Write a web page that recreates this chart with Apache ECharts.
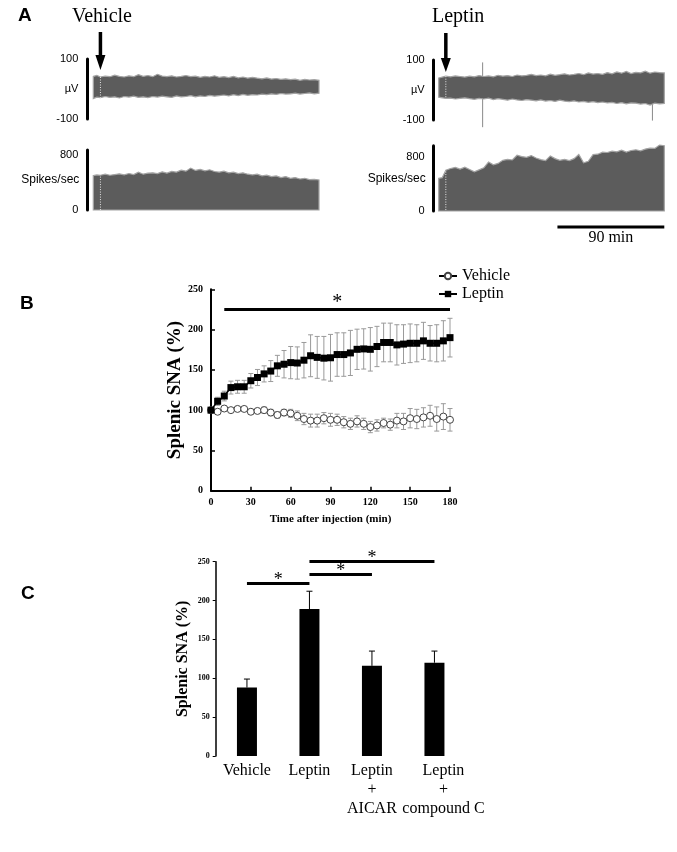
<!DOCTYPE html>
<html><head><meta charset="utf-8">
<script src="https://cdn.jsdelivr.net/npm/echarts@6/dist/echarts.min.js"></script>
<style>html,body{margin:0;padding:0;background:#fff}#c{width:677px;height:852px}</style>
</head><body><div id="c"></div>
<script>
// ---------- Panel A: recording envelopes ----------
const traceTime = [-6,-3,0,4,8,12,16,20,24,28,32,36,40,44,48,52,56,60,64,68,72,76,80,84,88,92,96,100,104,108,112,116,120,124,128,132,136,140,144,148,152,156,160,164,168,172,176,180,184];
const injectionTime = 0;
const vehUp = [42,45,40, 43,41,46,42,40,44,41,48,42,45,41, 49,43,41,44,40,42, 45,41,43,39,42,40,44, 39,41,38,42,37,40,36,39, 36,34,37,33,35,32,34,31,33,29,32,30,31,29];
const vehLo = [-32,-27,-29, -25,-28,-26,-30,-25,-27,-24,-28,-26,-29,-25, -27,-24,-26,-28,-23,-26, -25,-22,-26,-23,-25,-21,-24, -22,-20,-23,-19,-22,-18,-21,-19, -20,-17,-19,-16,-18,-15,-17,-16,-14,-17,-15,-13,-16,-14];
const vehSpikes = [505,515,510, 525,510,520,530,515,535,520,555,525,540,545, 535,560,540,565,555,585, 570,615,580,595,575,590,565, 555,570,545,555,535,545,525,515, 525,500,510,490,500,475,490,465,475,455,465,445,450,440];
const lepUp = [40,43,46, 44,47,45,43,46,44,48,45,47,44,49, 46,48,45,50,47,49, 52,48,50,47,53,49,51, 54,50,52,55,51,57,53,55, 52,58,54,60,56,62,55,59,57,63,56,60,58,57];
const lepLo = [-24,-26,-28, -27,-30,-28,-26,-29,-31,-28,-30,-27,-32,-29, -31,-34,-30,-33,-35,-32, -34,-36,-33,-37,-35,-38,-34, -37,-39,-36,-40,-38,-41,-39,-42, -40,-43,-41,-45,-42,-46,-43,-44,-47,-45,-50,-44,-46,-45];
const lepSpikes = [480,490,600, 625,640,615,645,610,575,605,635,720,680,700,745,760,750,820,800,790,815,780,755,740,810,770,745,760,740,770,830,710,730,830,835,865,860,880,870,895,865,890,900,885,910,925,920,970,960];
const lepSpikeTime = [31, 174];
const lepSpikeHi = [92, 52];
const lepSpikeLo = [-124, -102];

// ---------- Panel B ----------
const bTime = [0,5,10,15,20,25,30,35,40,45,50,55,60,65,70,75,80,85,90,95,100,105,110,115,120,125,130,135,140,145,150,155,160,165,170,175,180];
const vehMean = [100,98,102,100,101.5,101.5,98,99,100,97,94,97,96,93,89,87,87,90,88,88,85,83,86,83,79,81,84,82,87,86,90,89,91,93,89,92,88];
const vehErr = [0,3,3,3,3,3,3,3,4,4,4,4,5,6,7,8,8,7,8,7,7,7,7,7,7,7,6,7,9,10,12,12,12,13,15,16,14];
const lepMean = [100,111,117.5,128,129,129,136.5,140.5,145,148.5,155,157,159,158.5,162,167.5,165.5,164.5,165,169,169,171,175.5,176,175.5,179,184,184,181,182,183,183,186,183,183,186,190];
const lepErr = [0,5,6,8,8,8,9,10,10,13,13,17,20,20,22,26,26,27,29,27,27,28,25,25,27,25,24,24,25,24,24,23,23,22,23,25,24];
const bSig = [10, 180, 225];

// ---------- Panel C ----------
const cCategories = ['Vehicle', 'Leptin', 'Leptin\n+\nAICAR', 'Leptin\n+\ncompound C'];
const cMean = [88, 189, 116, 120];
const cErr = [11, 23, 19, 15];
const cSig = [[0, 1, 222], [1, 2, 234], [1, 3, 250]];

const SERIF = "'Liberation Serif','Times New Roman',serif";
const SANS = "'Liberation Sans',Arial,sans-serif";

function bandRender(up, lo, arrow) {
  return function (params, api) {
    const top = traceTime.map((t, i) => api.coord([t, up[i]]));
    const bot = traceTime.map((t, i) => api.coord([t, lo[i]])).reverse();
    const ch = [{type: 'polygon', shape: {points: top.concat(bot)}, style: {fill: '#5c5c5c', stroke: '#a4a4a4', lineWidth: 1.2}}];
    const k = traceTime.indexOf(injectionTime);
    const a = api.coord([injectionTime, up[k]]), b = api.coord([injectionTime, lo[k]]);
    ch.push({type: 'line', shape: {x1: a[0], y1: a[1], x2: b[0], y2: b[1]}, style: {stroke: '#e6e6e6', lineWidth: 1, lineDash: [1, 1.5]}});
    const s0 = api.coord([injectionTime, arrow[0]]), s1 = api.coord([injectionTime, arrow[1]]), tip = api.coord([injectionTime, arrow[2]]);
    ch.push({type: 'line', shape: {x1: s0[0], y1: s0[1], x2: s1[0], y2: s1[1] + 1}, style: {stroke: '#000', lineWidth: 3.5}});
    ch.push({type: 'polygon', shape: {points: [[s1[0] - 5, s1[1]], [s1[0] + 5, s1[1]], [tip[0], tip[1]]]}, style: {fill: '#000'}});
    return {type: 'group', children: ch};
  };
}
function spikeRender(vals, extra) {
  return function (params, api) {
    const pts = traceTime.map((t, i) => api.coord([t, vals[i]]));
    pts.push(api.coord([traceTime[traceTime.length - 1], 0]));
    pts.push(api.coord([traceTime[0], 0]));
    const ch = [{type: 'polygon', shape: {points: pts}, style: {fill: '#5c5c5c', stroke: '#a4a4a4', lineWidth: 1.2}}];
    const k = traceTime.indexOf(injectionTime);
    const a = api.coord([injectionTime, vals[k] - 20]), b = api.coord([injectionTime, 0]);
    ch.push({type: 'line', shape: {x1: a[0], y1: a[1], x2: b[0], y2: b[1]}, style: {stroke: '#e6e6e6', lineWidth: 1, lineDash: [1, 1.5]}});
    if (extra) extra(api, ch);
    return {type: 'group', children: ch};
  };
}
function eventRender(params, api) {
  const ch = lepSpikeTime.map((t, i) => {
    const a = api.coord([t, lepSpikeHi[i]]), b = api.coord([t, lepSpikeLo[i]]);
    return {type: 'line', shape: {x1: a[0], y1: a[1], x2: b[0], y2: b[1]}, style: {stroke: '#8a8a8a', lineWidth: 1}};
  });
  return {type: 'group', children: ch};
}
function errRender(color, both, cap) {
  return function (params, api) {
    const x = api.value(0), lo = api.value(1), hi = api.value(2);
    const p1 = api.coord([x, lo]), p2 = api.coord([x, hi]);
    const st = {stroke: color, lineWidth: 1};
    const ch = [{type: 'line', shape: {x1: p1[0], y1: p1[1], x2: p2[0], y2: p2[1]}, style: st},
      {type: 'line', shape: {x1: p2[0] - cap, y1: p2[1], x2: p2[0] + cap, y2: p2[1]}, style: st}];
    if (both) ch.push({type: 'line', shape: {x1: p1[0] - cap, y1: p1[1], x2: p1[0] + cap, y2: p1[1]}, style: st});
    return {type: 'group', children: ch};
  };
}

const hiddenX = (g) => ({type: 'value', gridIndex: g, min: traceTime[0], max: traceTime[traceTime.length - 1], show: false});
const uvAxis = (g, off) => ({type: 'value', gridIndex: g, min: -100, max: 100, interval: 100, offset: off,
  axisLine: {show: true, onZero: false, lineStyle: {color: '#000', width: 3}}, axisTick: {show: false}, splitLine: {show: false},
  axisLabel: {margin: 9, color: '#000', fontFamily: SANS, fontSize: 11, formatter: v => v === 0 ? 'µV' : String(v)}});
const spAxis = (g, off, max) => ({type: 'value', gridIndex: g, min: 0, max: max, interval: 800, offset: off,
  axisLine: {show: true, onZero: false, lineStyle: {color: '#000', width: 3}}, axisTick: {show: false}, splitLine: {show: false},
  axisLabel: {margin: 9, color: '#000', fontFamily: SANS, fontSize: 11, showMaxLabel: false, formatter: v => (v === 0 || v === 800) ? String(v) : ''},
  name: 'Spikes/sec', nameLocation: 'middle', nameRotate: 0, nameGap: 8, nameMoveOverlap: false,
  nameTextStyle: {color: '#000', fontFamily: SANS, fontSize: 12, align: 'right', verticalAlign: 'middle'}});
const G = (o) => Object.assign({outerBoundsMode: 'none', containLabel: false}, o);

const chart = echarts.init(document.getElementById('c'), null, {renderer: 'canvas'});
chart.setOption({
  animation: false,
  backgroundColor: '#fff',
  title: [
    {text: 'A', left: 18, top: 6, padding: 0, textStyle: {fontFamily: SANS, fontWeight: 'bold', fontSize: 19, color: '#000'}},
    {text: 'Vehicle', left: 72, top: 7, padding: 0, textStyle: {fontFamily: SERIF, fontWeight: 'normal', fontSize: 20, color: '#000'}},
    {text: 'Leptin', left: 432, top: 7, padding: 0, textStyle: {fontFamily: SERIF, fontWeight: 'normal', fontSize: 20, color: '#000'}},
    {text: 'B', left: 20, top: 294, padding: 0, textStyle: {fontFamily: SANS, fontWeight: 'bold', fontSize: 19, color: '#000'}},
    {text: 'C', left: 21, top: 584, padding: 0, textStyle: {fontFamily: SANS, fontWeight: 'bold', fontSize: 19, color: '#000'}}
  ],
  legend: {
    orient: 'vertical', left: 438, top: 268, itemWidth: 18, itemHeight: 8, itemGap: 2, padding: 0,
    textStyle: {fontFamily: SERIF, fontSize: 16, color: '#000'},
    data: ['Vehicle', 'Leptin']
  },
  grid: [
    G({left: 93.3, top: 59, width: 225.7, height: 60}),
    G({left: 93.3, top: 150, width: 225.7, height: 60}),
    G({left: 438.7, top: 60, width: 225.6, height: 60}),
    G({left: 438.7, top: 145.7, width: 225.6, height: 65.3}),
    G({left: 211, top: 289.3, width: 239, height: 201.4}),
    G({left: 215.7, top: 561.7, width: 250, height: 194.3})
  ],
  xAxis: [
    hiddenX(0), hiddenX(1), hiddenX(2), hiddenX(3),
    {type: 'value', gridIndex: 4, min: 0, max: 180, interval: 30,
      axisLine: {onZero: false, lineStyle: {color: '#000', width: 2}}, axisTick: {inside: true, length: 4, lineStyle: {color: '#000', width: 1.5}},
      splitLine: {show: false},
      axisLabel: {margin: 7, color: '#000', fontFamily: SERIF, fontWeight: 'bold', fontSize: 10},
      name: 'Time after injection (min)', nameLocation: 'middle', nameGap: 23, nameMoveOverlap: false,
      nameTextStyle: {color: '#000', fontFamily: SERIF, fontWeight: 'bold', fontSize: 11}},
    {type: 'category', gridIndex: 5, data: cCategories.map((c, i) => i === 3 ? {value: c, textStyle: {padding: [0, 0, 0, 18]}} : c),
      axisLine: {show: false}, axisTick: {show: false},
      axisLabel: {margin: 5, color: '#000', fontFamily: SERIF, fontSize: 16, lineHeight: 19, interval: 0}}
  ],
  yAxis: [
    uvAxis(0, 6), spAxis(1, 6, 880), uvAxis(2, 5), spAxis(3, 5, 960),
    {type: 'value', gridIndex: 4, min: 0, max: 250, interval: 50,
      axisLine: {show: true, onZero: false, lineStyle: {color: '#000', width: 2}}, axisTick: {show: true, inside: true, length: 4, lineStyle: {color: '#000', width: 1.5}},
      splitLine: {show: false},
      axisLabel: {margin: 8, color: '#000', fontFamily: SERIF, fontWeight: 'bold', fontSize: 10},
      name: 'Splenic SNA (%)', nameLocation: 'middle', nameGap: 26, nameMoveOverlap: false,
      nameTextStyle: {color: '#000', fontFamily: SERIF, fontWeight: 'bold', fontSize: 19}},
    {type: 'value', gridIndex: 5, min: 0, max: 250, interval: 50,
      axisLine: {show: true, onZero: false, lineStyle: {color: '#000', width: 1.5}}, axisTick: {show: true, length: 3, lineStyle: {color: '#000', width: 1}},
      splitLine: {show: false},
      axisLabel: {margin: 6, color: '#000', fontFamily: SERIF, fontWeight: 'bold', fontSize: 8},
      name: 'Splenic SNA (%)', nameLocation: 'middle', nameGap: 25, nameMoveOverlap: false,
      nameTextStyle: {color: '#000', fontFamily: SERIF, fontWeight: 'bold', fontSize: 16}}
  ],
  series: [
    {type: 'custom', name: 'vehUV', xAxisIndex: 0, yAxisIndex: 0, data: [[0, 0]], renderItem: bandRender(vehUp, vehLo, [190, 113, 63]), silent: true},
    {type: 'custom', name: 'vehSP', xAxisIndex: 1, yAxisIndex: 1, data: [[0, 0]], renderItem: spikeRender(vehSpikes), silent: true},
    {type: 'custom', name: 'lepUV', xAxisIndex: 2, yAxisIndex: 2, data: [[0, 0]], renderItem: bandRender(lepUp, lepLo, [190, 107, 60]), silent: true},
    {type: 'custom', name: 'lepEv', xAxisIndex: 2, yAxisIndex: 2, data: [[0, 0]], renderItem: eventRender, silent: true, z: 1},
    {type: 'custom', name: 'lepSP', xAxisIndex: 3, yAxisIndex: 3, data: [[0, 0]], silent: true,
      renderItem: spikeRender(lepSpikes, function (api, ch) {
        const a = api.coord([94, -235]), b = api.coord([184, -235]), m = api.coord([139, -400]);
        ch.push({type: 'line', shape: {x1: a[0], y1: a[1], x2: b[0], y2: b[1]}, style: {stroke: '#000', lineWidth: 3}});
        ch.push({type: 'text', x: m[0], y: m[1], style: {text: '90 min', fill: '#000', font: '16px ' + SERIF, textAlign: 'center', textVerticalAlign: 'middle'}});
      })},
    {type: 'custom', name: 'vehErr', xAxisIndex: 4, yAxisIndex: 4, z: 1, silent: true,
      data: bTime.map((t, i) => [t, vehMean[i] - vehErr[i], vehMean[i] + vehErr[i]]).filter((d, i) => vehErr[i] > 0),
      renderItem: errRender('#9a9a9a', true, 2.5)},
    {type: 'custom', name: 'lepErr', xAxisIndex: 4, yAxisIndex: 4, z: 1, silent: true,
      data: bTime.map((t, i) => [t, lepMean[i] - lepErr[i], lepMean[i] + lepErr[i]]).filter((d, i) => lepErr[i] > 0),
      renderItem: errRender('#9a9a9a', true, 2.5)},
    {type: 'line', name: 'Vehicle', xAxisIndex: 4, yAxisIndex: 4, z: 3,
      data: bTime.map((t, i) => [t, vehMean[i]]),
      symbol: 'circle', symbolSize: 7, showAllSymbol: true,
      itemStyle: {color: '#fff', borderColor: '#444', borderWidth: 1},
      lineStyle: {color: '#000', width: 1}},
    {type: 'line', name: 'Leptin', xAxisIndex: 4, yAxisIndex: 4, z: 4,
      data: bTime.map((t, i) => [t, lepMean[i]]),
      symbol: 'rect', symbolSize: 7, showAllSymbol: true,
      itemStyle: {color: '#000'},
      lineStyle: {color: '#000', width: 1.5},
      markLine: {silent: true, symbol: 'none', animation: false,
        lineStyle: {color: '#000', width: 3, type: 'solid'},
        label: {show: true, position: 'middle', formatter: '*', fontFamily: SERIF, fontSize: 20, color: '#000', distance: 0, offset: [0, 3]},
        data: [[{coord: [bSig[0], bSig[2]]}, {coord: [bSig[1], bSig[2]]}]]}},
    {type: 'bar', name: 'cbar', xAxisIndex: 5, yAxisIndex: 5, data: cMean, barWidth: 20,
      itemStyle: {color: '#000'}, silent: true,
      markLine: {silent: true, symbol: 'none', animation: false,
        lineStyle: {color: '#000', width: 3, type: 'solid'},
        label: {show: true, position: 'middle', formatter: '*', fontFamily: SERIF, fontSize: 18, color: '#000', distance: 0, offset: [0, 6]},
        data: cSig.map(s => [{coord: [s[0], s[2]]}, {coord: [s[1], s[2]]}])}},
    {type: 'custom', name: 'cErr', xAxisIndex: 5, yAxisIndex: 5, z: 3, silent: true,
      data: cMean.map((v, i) => [i, v, v + cErr[i]]),
      renderItem: errRender('#000', false, 3)}
  ]
});
</script>
</body></html>
